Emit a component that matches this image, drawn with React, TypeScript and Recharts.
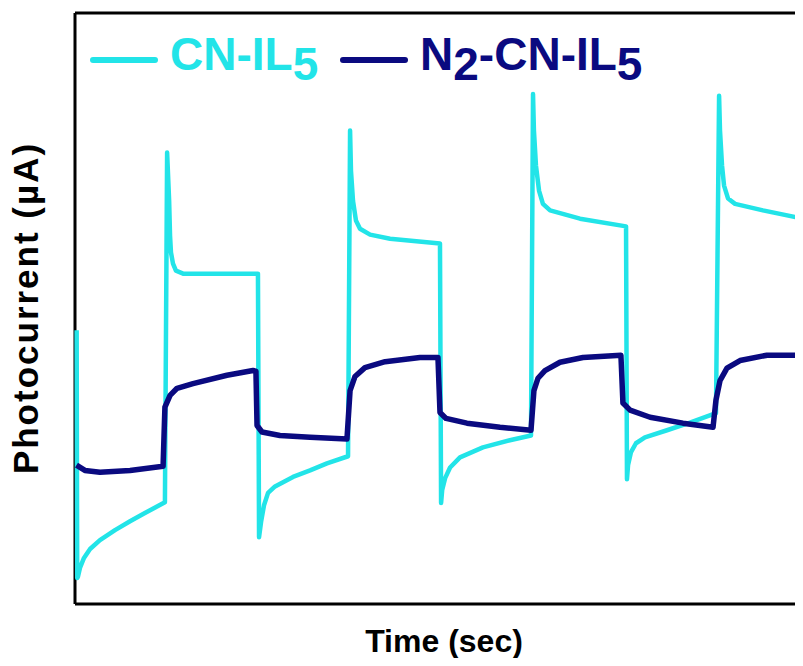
import React from 'react';
import { LineChart, Line, XAxis, YAxis, ReferenceLine } from 'recharts';

// CN-IL5 photocurrent trace (time in s, current in arbitrary µA units)
const cnTime = [
  0.9, 1.2, 1.6, 2.7, 4.9, 8.2, 13.6, 21.8, 30.0, 38.1, 49.0, 50.2, 51.3, 51.8, 52.3, 53.4, 55.0, 58.9, 79, 99.7,
  100.3, 101.4, 103.0, 105.2, 109.0, 118.8, 128.1, 137.3, 148.8, 149.9, 150.4, 151.5, 153.1, 155.3, 160.8, 171.7,
  198.9, 199.5, 200.1, 201.7, 204.4, 209.8, 222.3, 237, 248.5, 249.6, 250.1, 251.2, 252.9, 255.0, 258.9, 275.2,
  300.3, 300.8, 301.4, 303.0, 305.7, 310.6, 322.6, 335.1, 349.3, 351.0, 351.5, 352.6, 353.7, 355.9, 359.7, 374.9,
  396.7, 400,
];
const cnCurrent = [
  46.3, 4.4, 4.6, 6.1, 7.8, 9.3, 10.8, 12.5, 14.0, 15.4, 17.2, 76.4, 68.2, 62.3, 59.5, 57.6, 56.4, 55.9, 55.9, 55.9,
  11.3, 13.9, 16.7, 18.8, 19.9, 21.5, 22.6, 23.8, 25.0, 80.1, 73.3, 68.2, 64.9, 63.5, 62.5, 61.8,
  61.0, 17.1, 19.3, 21.3, 23.1, 24.8, 26.5, 27.7, 28.5, 86.3, 80.1, 74.2, 69.9, 67.7, 66.6, 65.2,
  63.9, 21.1, 23.5, 25.7, 27.2, 28.2, 29.4, 30.7, 32.3, 86.0, 80.1, 74.2, 70.8, 68.6, 67.7, 66.6,
  65.2, 65.0,
];

// N2-CN-IL5 photocurrent trace
const n2Time = [
  0.8, 5.4, 13.6, 30.0, 48.0, 49.0, 51.8, 55.6, 64.3, 82.8, 97.0, 98.6, 99.2, 101.9, 111.7, 128.1, 148.2, 149.9,
  152.6, 158.0, 169.0, 188.0, 197.8, 198.9, 202.2, 213.6, 231.6, 248.5, 250.1, 252.3, 256.1, 264.3, 276.8, 297.5,
  298.6, 302.5, 313.4, 331.3, 347.7, 349.3, 351.5, 355.3, 362.4, 377.1, 400,
];
const n2Current = [
  23.5, 22.6, 22.3, 22.6, 23.3, 33.3, 35.3, 36.5, 37.3, 38.7, 39.5, 39.4, 30.2, 29.1, 28.5, 28.2, 27.9, 36.1,
  38.5, 40.0, 41.0, 41.7, 41.7, 32.4, 31.4, 30.6, 29.9, 29.4, 36.1, 38.2, 39.5, 40.9, 41.7, 42.1,
  34.0, 32.8, 31.6, 30.6, 29.9, 34.5, 37.8, 39.9, 41.2, 42.1, 42.1,
];

const seriesNames = ['CN-IL5', 'N2-CN-IL5'];
const xTitle = 'Time (sec)';
const yTitle = 'Photocurrent (µA)';

const CYAN = '#22E4E8';
const NAVY = '#0A0A80';
const FONT = '"Liberation Sans", Arial, Helvetica, sans-serif';

const cnData = cnTime.map((time, i) => ({ time, current: cnCurrent[i] }));
const n2Data = n2Time.map((time, i) => ({ time, current: n2Current[i] }));

// digits in the sample names are subscripts
function SubName({ name }: { name: string }) {
  return (
    <>
      {name.split('').map((ch, i) =>
        /\d/.test(ch) ? (
          <span key={i} style={{ position: 'relative', top: 10 }}>
            {ch}
          </span>
        ) : (
          <span key={i}>{ch}</span>
        )
      )}
    </>
  );
}

function LegendBox() {
  const colors = [CYAN, NAVY];
  const lineLeft = [82, 332];
  return (
    <>
      {seriesNames.map((n, i) => (
        <React.Fragment key={n}>
          <svg style={{ position: 'absolute', left: lineLeft[i], top: 48 }} width={68} height={8}>
            <line x1={3} y1={4} x2={65} y2={4} stroke={colors[i]} strokeWidth={6} strokeLinecap="round" />
          </svg>
          <div
            style={{
              position: 'absolute',
              left: lineLeft[i] + 80,
              top: 23,
              fontSize: 46,
              lineHeight: 1,
              fontWeight: 700,
              color: colors[i],
              whiteSpace: 'nowrap',
            }}
          >
            <SubName name={n} />
          </div>
        </React.Fragment>
      ))}
    </>
  );
}

export default function App() {
  return (
    <div style={{ position: 'relative', width: 795, height: 650, fontFamily: FONT }}>
      <div style={{ position: 'absolute', left: 0, top: 0, width: 795, height: 650, overflow: 'hidden' }}>
        <LineChart width={850} height={650} margin={{ top: 5, right: 49, bottom: 54, left: 67 }}>
          <XAxis dataKey="time" type="number" domain={[0, 400]} tick={false} tickLine={false} axisLine={false} height={0} />
          <YAxis type="number" domain={[0, 100]} tick={false} tickLine={false} axisLine={false} width={0} />
          <ReferenceLine y={100} stroke="#000" strokeWidth={3} />
          <ReferenceLine y={0} stroke="#000" strokeWidth={3} />
          <ReferenceLine x={0} stroke="#000" strokeWidth={3} />
          <Line
            data={cnData}
            dataKey="current"
            name={seriesNames[0]}
            type="linear"
            stroke={CYAN}
            strokeWidth={4.5}
            strokeLinejoin="round"
            dot={false}
            isAnimationActive={false}
          />
          <Line
            data={n2Data}
            dataKey="current"
            name={seriesNames[1]}
            type="linear"
            stroke={NAVY}
            strokeWidth={5.5}
            strokeLinejoin="round"
            dot={false}
            isAnimationActive={false}
          />
        </LineChart>
      </div>
      <LegendBox />
      <div
        style={{
          position: 'absolute',
          left: 0,
          top: 300,
          transform: 'translateY(-50%) rotate(180deg)',
          writingMode: 'vertical-rl',
          fontSize: 35,
          lineHeight: 1,
          fontWeight: 700,
          letterSpacing: 2,
          whiteSpace: 'nowrap',
        }}
      >
        {yTitle}
      </div>
      <div
        style={{
          position: 'absolute',
          left: 436,
          top: 617,
          transform: 'translateX(-50%)',
          fontSize: 32,
          lineHeight: 1,
          fontWeight: 700,
          whiteSpace: 'nowrap',
        }}
      >
        {xTitle}
      </div>
    </div>
  );
}
